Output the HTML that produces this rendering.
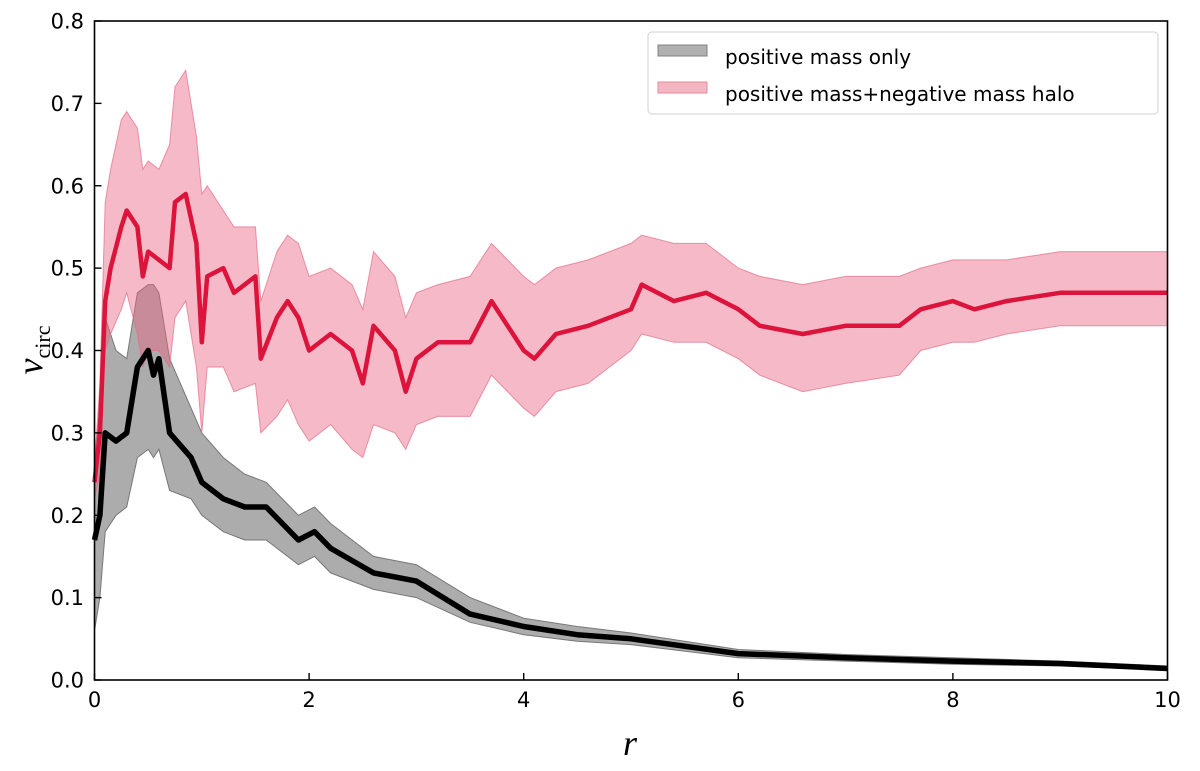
<!DOCTYPE html>
<html><head><meta charset="utf-8"><style>
body{margin:0;background:#fff;}
svg text{font-family:"DejaVu Sans","Liberation Sans",sans-serif;}
</style></head><body>
<svg id="c" width="1200" height="766" viewBox="0 0 1200 766" xmlns="http://www.w3.org/2000/svg">
<g id="plot"></g>
<rect x="94.5" y="21" width="1073" height="659" fill="none" stroke="#000" stroke-width="1.6"/>
<g id="ticks"></g>
<text x="630" y="755" font-style="italic" font-size="36" text-anchor="middle" style="font-family:'Liberation Serif',serif">r</text>
<text transform="translate(42,350) rotate(-90)" font-size="36" text-anchor="middle"><tspan font-style="italic" style="font-family:'Liberation Serif',serif">v</tspan><tspan font-size="22" dy="8" style="font-family:'Liberation Serif',serif">circ</tspan></text>
<g>
<rect x="648" y="32" width="510" height="82" rx="4" fill="#fff" fill-opacity="0.85" stroke="#d0d0d0"/>
<rect x="658" y="45" width="49" height="11" fill="#b0b0b0" stroke="#808080"/>
<text x="725" y="64" font-size="20">positive mass only</text>
<rect x="658" y="82" width="49" height="11" fill="#f4b6c2" stroke="#e88a9e"/>
<text x="725" y="101" font-size="20">positive mass+negative mass halo</text>
</g>
</svg>
<script>
const redR  =[0,0.05,0.1,0.15,0.25,0.3,0.4,0.45,0.5,0.6,0.7,0.75,0.85,0.95,1.0,1.05,1.2,1.3,1.5,1.55,1.7,1.8,1.9,2.0,2.2,2.4,2.5,2.6,2.8,2.9,3.0,3.2,3.5,3.7,4.0,4.1,4.3,4.6,5.0,5.1,5.4,5.7,6.0,6.2,6.6,7.0,7.5,7.7,8.0,8.2,8.5,9.0,10];
const redV  =[0.24,0.30,0.46,0.50,0.55,0.57,0.55,0.49,0.52,0.51,0.50,0.58,0.59,0.53,0.41,0.49,0.50,0.47,0.49,0.39,0.44,0.46,0.44,0.40,0.42,0.40,0.36,0.43,0.40,0.35,0.39,0.41,0.41,0.46,0.40,0.39,0.42,0.43,0.45,0.48,0.46,0.47,0.45,0.43,0.42,0.43,0.43,0.45,0.46,0.45,0.46,0.47,0.47];
const redLo =[0.22,0.25,0.40,0.42,0.45,0.47,0.42,0.38,0.40,0.40,0.38,0.44,0.46,0.38,0.30,0.38,0.38,0.35,0.36,0.30,0.32,0.34,0.31,0.29,0.31,0.28,0.27,0.31,0.30,0.28,0.31,0.32,0.32,0.37,0.33,0.32,0.35,0.36,0.40,0.42,0.41,0.41,0.39,0.37,0.35,0.36,0.37,0.40,0.41,0.41,0.42,0.43,0.43];
const redHi =[0.26,0.36,0.58,0.62,0.68,0.69,0.67,0.62,0.63,0.62,0.65,0.72,0.74,0.66,0.59,0.60,0.57,0.55,0.55,0.46,0.52,0.54,0.53,0.49,0.50,0.48,0.45,0.52,0.49,0.44,0.47,0.48,0.49,0.53,0.49,0.48,0.50,0.51,0.53,0.54,0.53,0.53,0.50,0.49,0.48,0.49,0.49,0.50,0.51,0.51,0.51,0.52,0.52];
const blkR  =[0,0.05,0.1,0.2,0.3,0.4,0.5,0.55,0.6,0.7,0.9,1.0,1.2,1.4,1.6,1.9,2.05,2.2,2.6,3.0,3.5,4.0,4.5,5.0,6.0,7.0,8.0,9.0,10];
const blkV  =[0.17,0.20,0.30,0.29,0.30,0.38,0.40,0.37,0.39,0.30,0.27,0.24,0.22,0.21,0.21,0.17,0.18,0.16,0.13,0.12,0.08,0.065,0.055,0.05,0.032,0.027,0.023,0.02,0.014];
const blkLo =[0.06,0.10,0.18,0.20,0.21,0.27,0.28,0.27,0.28,0.23,0.22,0.20,0.18,0.17,0.17,0.14,0.15,0.13,0.11,0.10,0.07,0.055,0.047,0.043,0.027,0.023,0.019,0.017,0.012];
const blkHi =[0.27,0.33,0.44,0.40,0.39,0.47,0.48,0.48,0.47,0.39,0.33,0.30,0.27,0.25,0.24,0.20,0.21,0.19,0.15,0.14,0.10,0.075,0.065,0.057,0.037,0.031,0.027,0.023,0.017];
const xTicks=[0,2,4,6,8,10];
const yTicks=[0,0.1,0.2,0.3,0.4,0.5,0.6,0.7,0.8];
const xTickLabels=["0","2","4","6","8","10"];
const yTickLabels=["0.0","0.1","0.2","0.3","0.4","0.5","0.6","0.7","0.8"];

const X=r=>94.5+r*107.3;
const Y=v=>680-v*823.75;
const NS="http://www.w3.org/2000/svg";
const plot=document.getElementById('plot');
const ticks=document.getElementById('ticks');
function band(rs,lo,hi,fill,stroke,name){
  let d="M"+rs.map((r,i)=>X(r).toFixed(1)+","+Y(hi[i]).toFixed(1)).join("L");
  for(let i=rs.length-1;i>=0;i--) d+="L"+X(rs[i]).toFixed(1)+","+Y(lo[i]).toFixed(1);
  d+="Z";
  const p=document.createElementNS(NS,'path');
  p.setAttribute('d',d);p.setAttribute('fill',fill);p.setAttribute('stroke',stroke);p.setAttribute('stroke-width','1');
  
  
  plot.appendChild(p);
}
function line(rs,v,color,w,name){
  const p=document.createElementNS(NS,'path');
  p.setAttribute('d',"M"+rs.map((r,i)=>X(r).toFixed(1)+","+Y(v[i]).toFixed(1)).join("L"));
  p.setAttribute('fill','none');p.setAttribute('stroke',color);p.setAttribute('stroke-width',w);p.setAttribute('stroke-linejoin','round');
  
  
  plot.appendChild(p);
}
band(blkR,blkLo,blkHi,'rgba(128,128,128,0.65)','#777','positive-mass-band');
band(redR,redLo,redHi,'rgba(232,100,130,0.45)','rgba(225,110,135,0.7)','negative-halo-band');
line(blkR,blkV,'#000','5.5','positive-mass-line');
line(redR,redV,'#dc143c','4.5','negative-halo-line');
xTicks.forEach((t,i)=>{
  const l=document.createElementNS(NS,'line');
  l.setAttribute('x1',X(t));l.setAttribute('x2',X(t));l.setAttribute('y1',680);l.setAttribute('y2',673);l.setAttribute('stroke','#000');l.setAttribute('stroke-width','1.4');
  
  
  ticks.appendChild(l);
  const tx=document.createElementNS(NS,'text');
  tx.setAttribute('x',X(t));tx.setAttribute('y',707);tx.setAttribute('font-size','21');tx.setAttribute('text-anchor','middle');
  tx.textContent=xTickLabels[i];
  
  
  ticks.appendChild(tx);
});
yTicks.forEach((t,i)=>{
  const l=document.createElementNS(NS,'line');
  l.setAttribute('x1',94.5);l.setAttribute('x2',101.5);l.setAttribute('y1',Y(t));l.setAttribute('y2',Y(t));l.setAttribute('stroke','#000');l.setAttribute('stroke-width','1.4');
  
  
  ticks.appendChild(l);
  const tx=document.createElementNS(NS,'text');
  tx.setAttribute('x',84);tx.setAttribute('y',Y(t)+7.5);tx.setAttribute('font-size','21');tx.setAttribute('text-anchor','end');
  tx.textContent=yTickLabels[i];
  
  
  ticks.appendChild(tx);
});
</script>
</body></html>
